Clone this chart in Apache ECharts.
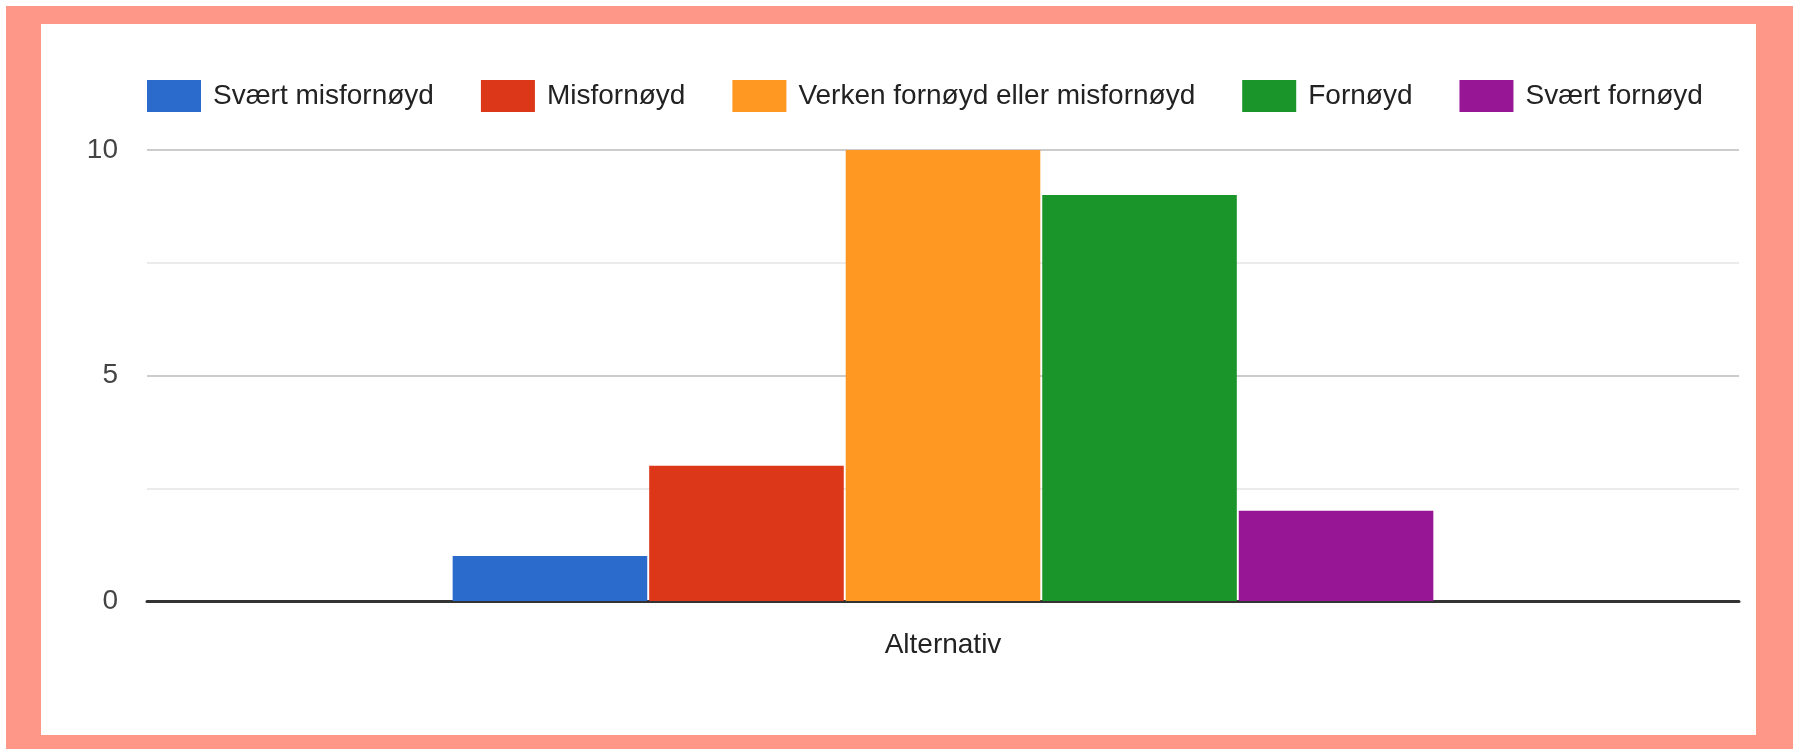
<!DOCTYPE html>
<html>
<head>
<meta charset="utf-8">
<script src="https://cdn.jsdelivr.net/npm/echarts@6/dist/echarts.min.js"></script>
<style>
html, body { margin: 0; padding: 0; background: #fff; }
#frame { position: absolute; left: 6px; top: 6px; width: 1787px; height: 743px; background: #fe9787; }
#inner { position: absolute; left: 41px; top: 24px; width: 1715px; height: 711px; background: #fff; }
#main { position: absolute; left: 0; top: 0; width: 1799px; height: 749px; }
</style>
</head>
<body>
<div id="frame"></div>
<div id="inner"></div>
<div id="main"></div>
<script>
var categories = ['Alternativ'];
var names = ['Svært misfornøyd', 'Misfornøyd', 'Verken fornøyd eller misfornøyd', 'Fornøyd', 'Svært fornøyd'];
var values = [1, 3, 10, 9, 2];
var colors = ['#2a6bcc', '#dd3719', '#fe9823', '#1a9529', '#971696'];
var yTicks = [0, 5, 10];

var font = '"Liberation Sans", Arial, sans-serif';

var series = [];
for (var i = 0; i < names.length; i++) {
    series.push({
        name: names[i],
        type: 'bar',
        barGap: '1%',
        barCategoryGap: '38.4%',
        itemStyle: {color: colors[i]},
        data: [values[i]]
    });
}

var myChart = echarts.init(document.getElementById('main'));
var option = {
    animation: false,
    color: colors,
    textStyle: {fontFamily: font},
    legend: {
        left: 142,
        top: 75,
        itemWidth: 54,
        itemHeight: 32,
        itemGap: 47,
        icon: 'rect',
        textStyle: {fontFamily: font, fontSize: 28, color: '#222', padding: [0, 0, 0, 7]}
    },
    grid: {left: 147, right: 60, top: 150, bottom: 148},
    xAxis: {
        type: 'category',
        data: categories,
        axisTick: {show: false},
        axisLine: {lineStyle: {color: '#333', width: 3}},
        axisLabel: {fontFamily: font, fontSize: 28, color: '#222', margin: 30}
    },
    yAxis: {
        type: 'value',
        min: yTicks[0],
        max: yTicks[yTicks.length - 1],
        interval: 5,
        axisLine: {show: false},
        axisTick: {show: false},
        axisLabel: {fontFamily: font, fontSize: 28, color: '#444', margin: 29, padding: [5, 0, 0, 0]},
        splitLine: {lineStyle: {color: '#cccccc', width: 2}},
        minorTick: {show: false, splitNumber: 2},
        minorSplitLine: {show: true, lineStyle: {color: '#ebebeb', width: 2}}
    },
    series: series
};
myChart.setOption(option);
</script>
</body>
</html>
